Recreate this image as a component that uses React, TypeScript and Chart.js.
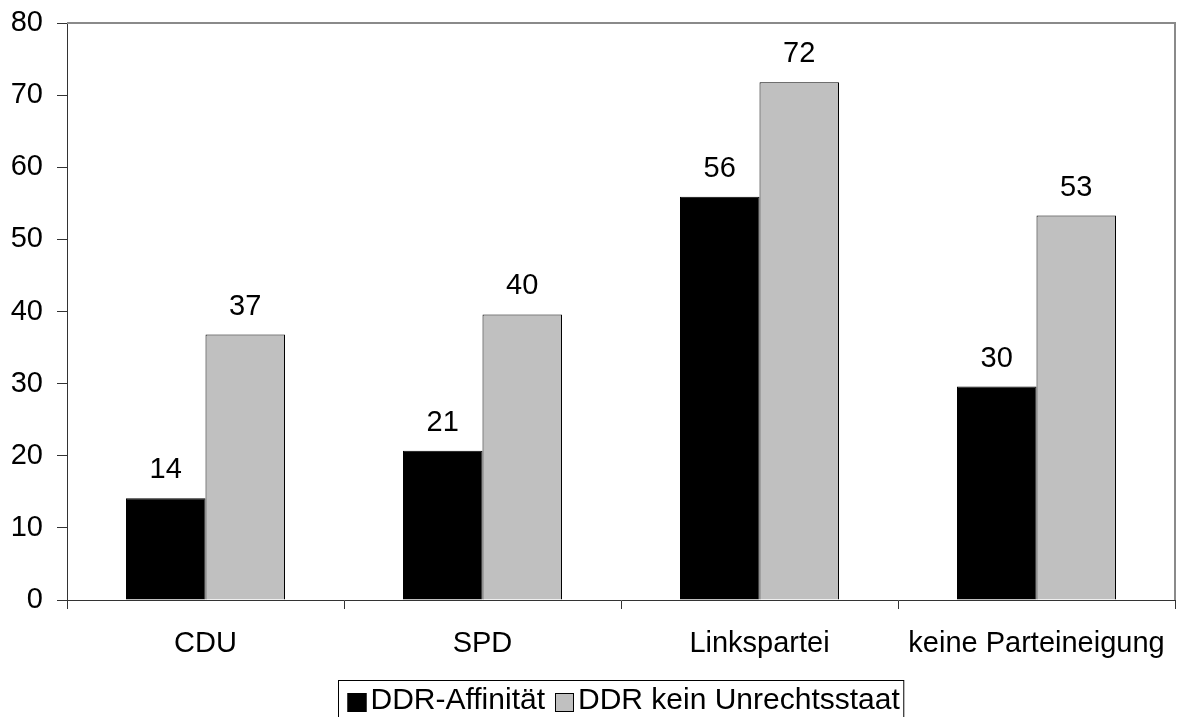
import React, { useEffect, useRef } from "react";
import { Chart, registerables } from "chart.js";

Chart.register(...registerables);

const categories = ["CDU", "SPD", "Linkspartei", "keine Parteineigung"];
const affinityValues = [14.1, 20.7, 55.9, 29.6];
const noInjusticeValues = [36.8, 39.6, 71.8, 53.3];
const seriesNames = ["DDR-Affinität", "DDR kein Unrechtsstaat"];
const seriesColors = ["#000000", "#C0C0C0"];
const yTicks = [0, 10, 20, 30, 40, 50, 60, 70, 80];

const FONT = "'Liberation Sans', Arial, Helvetica, sans-serif";

const framePlugin = {
  id: "frame",
  beforeDatasetsDraw(chart: any) {
    const { ctx, chartArea } = chart;
    ctx.save();
    ctx.strokeStyle = "#8a8a8a";
    ctx.lineWidth = 2;
    ctx.beginPath();
    ctx.moveTo(chartArea.left, chartArea.top);
    ctx.lineTo(chartArea.right, chartArea.top);
    ctx.lineTo(chartArea.right, chartArea.bottom);
    ctx.stroke();
    ctx.restore();
  },
};

const valueLabelPlugin = {
  id: "valueLabels",
  afterDatasetsDraw(chart: any) {
    const { ctx } = chart;
    ctx.save();
    ctx.font = `29px ${FONT}`;
    ctx.fillStyle = "#000";
    ctx.textAlign = "center";
    ctx.textBaseline = "middle";
    chart.data.datasets.forEach((ds: any, i: number) => {
      const meta = chart.getDatasetMeta(i);
      meta.data.forEach((bar: any, j: number) => {
        const v = ds.data[j];
        ctx.fillText(String(Math.round(v)), bar.x, bar.y - 28);
      });
    });
    ctx.restore();
  },
};

const legendPlugin = {
  id: "boxLegend",
  afterDraw(chart: any) {
    const { ctx, chartArea } = chart;
    const y0 = chart.scales.x.bottom;
    ctx.save();
    ctx.font = `30px ${FONT}`;
    const padL = 9, sq = 19, gap = 4, itemGap = 10, padR = 4;
    const widths = seriesNames.map((n) => ctx.measureText(n).width);
    const total = padL + sq + gap + widths[0] + itemGap + sq + gap + widths[1] + padR;
    const cx = (chartArea.left + chartArea.right) / 2;
    const left = Math.round(cx - total / 2) + 0.5;
    ctx.strokeStyle = "#000";
    ctx.lineWidth = 1;
    ctx.strokeRect(left, y0 + 0.5, total, 60);
    let x = left + padL;
    ctx.textBaseline = "middle";
    ctx.textAlign = "left";
    seriesNames.forEach((name, i) => {
      ctx.fillStyle = seriesColors[i];
      ctx.fillRect(x, y0 + 13, sq, sq);
      ctx.strokeStyle = "#000";
      ctx.strokeRect(x + 0.5, y0 + 13.5, sq - 1, sq - 1);
      x += sq + gap;
      ctx.fillStyle = "#000";
      ctx.fillText(name, x, y0 + 21);
      x += widths[i] + itemGap;
    });
    ctx.restore();
  },
};

export default function App() {
  const ref = useRef<HTMLCanvasElement | null>(null);

  useEffect(() => {
    if (!ref.current) return;
    Chart.defaults.font.family = FONT;
    const chart = new Chart(ref.current, {
      type: "bar",
      data: {
        labels: categories,
        datasets: [
          {
            label: seriesNames[0],
            data: affinityValues,
            backgroundColor: seriesColors[0],
            borderColor: "#000",
            borderWidth: 1,
            categoryPercentage: 0.574,
            barPercentage: 1,
          },
          {
            label: seriesNames[1],
            data: noInjusticeValues,
            backgroundColor: seriesColors[1],
            borderColor: "#000",
            borderWidth: 1,
            categoryPercentage: 0.574,
            barPercentage: 1,
          },
        ],
      },
      options: {
        animation: false,
        responsive: true,
        maintainAspectRatio: false,
        layout: { padding: { top: 23, right: 4, bottom: 37, left: 0 } },
        plugins: {
          legend: { display: false },
          tooltip: { enabled: false },
        },
        scales: {
          x: {
            grid: {
              offset: true,
              drawOnChartArea: false,
              drawTicks: true,
              tickLength: 9,
              color: "#333",
            },
            border: { color: "#333", width: 1 },
            ticks: {
              font: { size: 29, family: FONT, lineHeight: 2.44 },
              color: "#000",
              padding: 0,
              maxRotation: 0,
              autoSkip: false,
            },
            afterFit: (scale: any) => {
              scale.height = 80;
            },
          },
          y: {
            min: 0,
            max: 80,
            afterBuildTicks: (scale: any) => {
              scale.ticks = yTicks.map((v) => ({ value: v }));
            },
            grid: {
              drawOnChartArea: false,
              drawTicks: true,
              tickLength: 10,
              color: "#333",
            },
            border: { color: "#333", width: 1 },
            ticks: {
              font: { size: 29, family: FONT, lineHeight: 0.5 },
              color: "#000",
              padding: 14,
            },
            afterFit: (scale: any) => {
              scale.width = 67;
            },
          },
        },
      },
      plugins: [framePlugin, valueLabelPlugin, legendPlugin],
    });
    return () => chart.destroy();
  }, []);

  return (
    <div
      style={{
        position: "fixed",
        left: 0,
        top: 0,
        width: "1179px",
        height: "717px",
        background: "#fff",
      }}
    >
      <canvas ref={ref} />
    </div>
  );
}
